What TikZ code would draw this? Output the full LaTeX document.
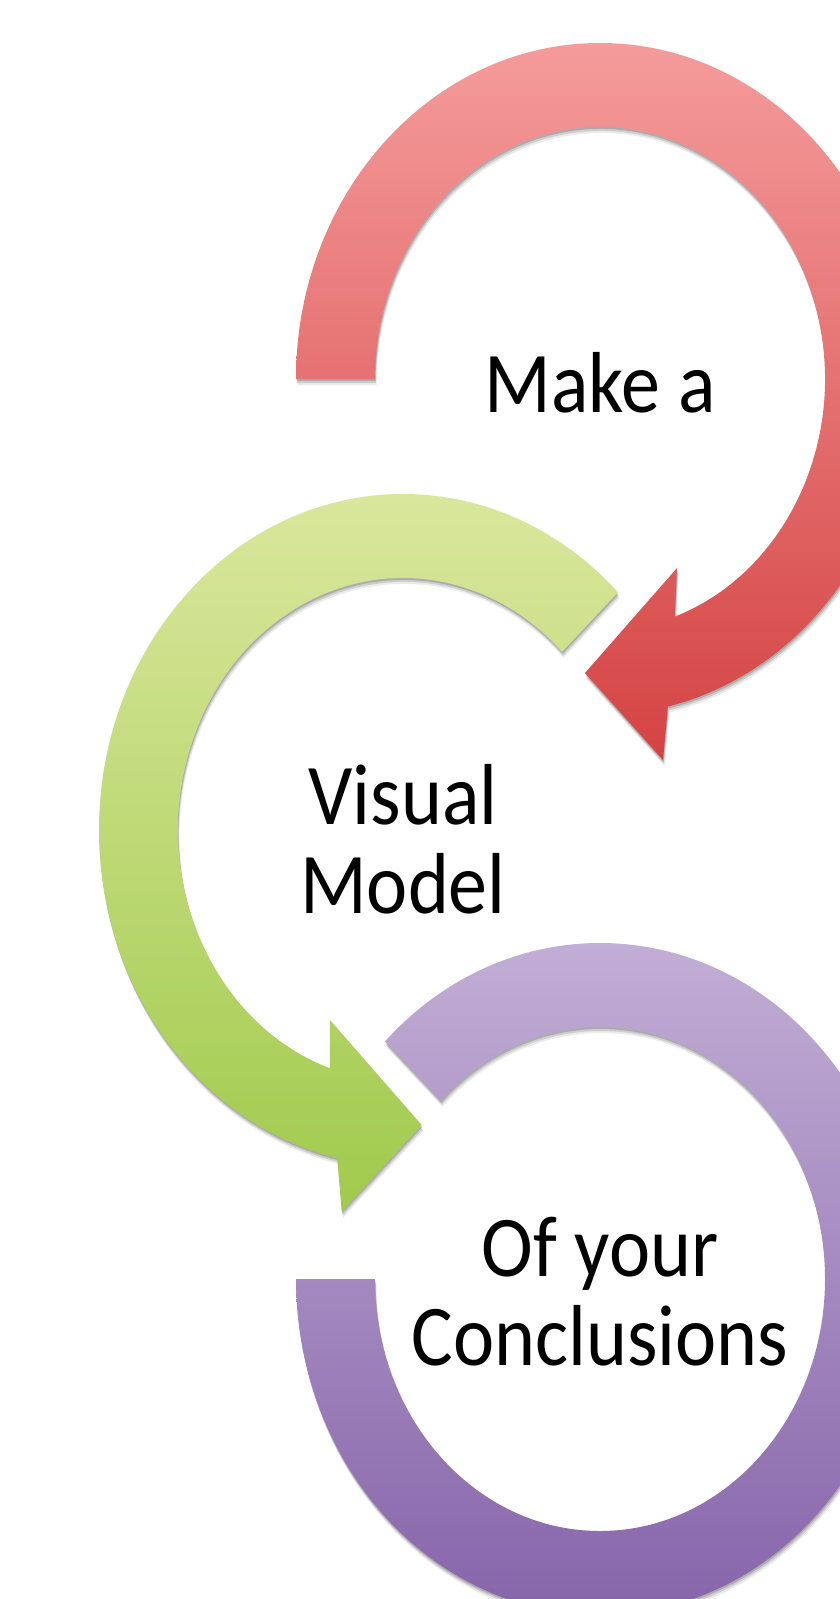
\documentclass[tikz,border=0pt]{standalone}
\usepackage{fontspec}
\setmainfont{Carlito}
\usepackage{graphicx}
\usetikzlibrary{calc}
\definecolor{redtop}{HTML}{F59B9B}
\definecolor{redbot}{HTML}{D44343}
\definecolor{greentop}{HTML}{DCE8A0}
\definecolor{greenbot}{HTML}{A0CA4C}
\definecolor{purptop}{HTML}{C4B1D7}
\definecolor{purpbot}{HTML}{8461A8}
\newcommand\stretchlbl[1]{\scalebox{1}[1.11]{\begin{tabular}{@{}c@{}}#1\end{tabular}}}
\begin{document}
\begin{tikzpicture}[x=1pt,y=1pt,
  softshadow/.style={preaction={fill=black,opacity=0.08,transform canvas={shift={(1.5pt,-6pt)}}},
                     preaction={fill=black,opacity=0.12,transform canvas={shift={(1pt,-4pt)}}},
                     preaction={fill=black,opacity=0.16,transform canvas={shift={(0.5pt,-2pt)}}}},
  ring/.style={softshadow, shade, shading angle=0},
  lbl/.style={inner sep=0pt, text=black, font=\fontsize{78pt}{81pt}\selectfont}]
\useasboundingbox (0,0) rectangle (840,-1599);
\fill[white] (0,0) rectangle (840,-1599);
\clip (0,0) rectangle (840,-1599);
\coordinate (rc) at (600,-379);
\coordinate (gc) at (403,-830);
\coordinate (pc) at (600,-1279);
% red arrow
\path[ring, top color=redtop, bottom color=redbot]
  ($(rc)+(180:304pt and 336pt)$)
  arc[start angle=180, end angle=-77.1, x radius=304pt, y radius=336pt]
  -- (663,-760) -- (585,-673) -- (677,-568)
  -- ($(rc)+(-70.6:225pt and 252pt)$)
  arc[start angle=-70.6, end angle=180, x radius=225pt, y radius=252pt]
  -- cycle;
% green arrow
\path[ring, top color=greentop, bottom color=greenbot]
  ($(gc)+(45:304pt and 336pt)$)
  arc[start angle=45, end angle=257.5, x radius=304pt, y radius=336pt]
  -- (341.7,-1211.7) -- (421.7,-1125) -- (330,-1020)
  -- ($(gc)+(251:225pt and 252pt)$)
  arc[start angle=251, end angle=45, x radius=225pt, y radius=252pt]
  -- cycle;
% purple ring
\path[ring, top color=purptop, bottom color=purpbot]
  ($(pc)+(135:304pt and 336pt)$)
  arc[start angle=135, end angle=-180, x radius=304pt, y radius=336pt]
  -- ($(pc)+(-180:225pt and 252pt)$)
  arc[start angle=-180, end angle=135, x radius=225pt, y radius=252pt]
  -- cycle;
% labels
\node[lbl] (t1) at (600,-395) {\stretchlbl{Make a}};
\node[lbl] (t2) at (403,-851) {\stretchlbl{Visual\\Model}};
\node[lbl] (t3) at (600,-1303) {\stretchlbl{Of your\\Conclusions}};
\end{tikzpicture}
\end{document}
